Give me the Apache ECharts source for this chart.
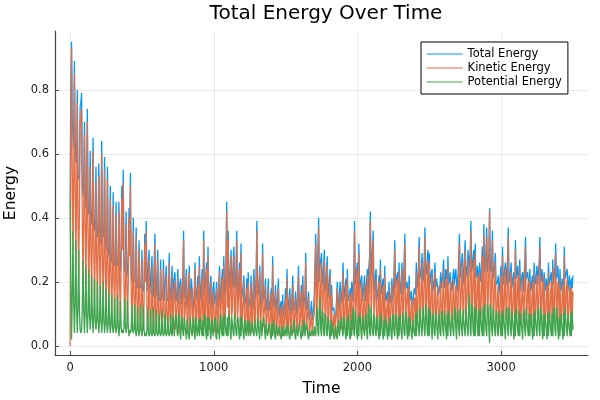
<!DOCTYPE html>
<html>
<head>
<meta charset="utf-8">
<script src="https://cdn.jsdelivr.net/npm/echarts@6/dist/echarts.min.js"></script>
<style>html,body{margin:0;padding:0;background:#fff}#c{width:600px;height:400px}</style>
</head>
<body>
<div id="c"></div>
<script>
const TIME_START = 0;
const TIME_STEP = 5;
const xTickValues = [0, 1000, 2000, 3000];
const yTickValues = [0, 0.2, 0.4, 0.6, 0.8];
const seriesNames = ['Total Energy', 'Kinetic Energy', 'Potential Energy'];

const kineticEnergy = [
0.00,0.62,0.93,0.55,0.30,0.48,0.85,0.52,0.25,0.45,0.76,0.40,0.22,0.42,0.70,0.72,0.74,0.38,0.20,0.40,
0.66,0.38,0.18,0.40,0.70,0.35,0.17,0.33,0.56,0.30,0.16,0.34,0.61,0.31,0.15,0.29,0.51,0.27,0.14,0.30,
0.53,0.28,0.13,0.30,0.60,0.29,0.14,0.27,0.55,0.26,0.12,0.25,0.52,0.24,0.11,0.23,0.46,0.22,0.10,0.22,
0.44,0.21,0.10,0.22,0.41,0.20,0.09,0.21,0.42,0.19,0.09,0.24,0.46,0.30,0.51,0.20,0.08,0.19,0.38,0.18,
0.08,0.20,0.40,0.28,0.50,0.18,0.07,0.17,0.36,0.16,0.07,0.16,0.34,0.15,0.06,0.14,0.30,0.14,0.06,0.13,
0.27,0.13,0.05,0.14,0.32,0.20,0.36,0.12,0.05,0.13,0.27,0.12,0.05,0.12,0.25,0.11,0.04,0.12,0.32,0.11,
0.05,0.12,0.27,0.11,0.04,0.11,0.24,0.10,0.05,0.11,0.24,0.10,0.04,0.10,0.22,0.10,0.05,0.11,0.26,0.10,
0.06,0.15,0.22,0.04,0.12,0.17,0.20,0.05,0.05,0.14,0.21,0.04,0.08,0.16,0.19,0.05,0.06,0.18,0.33,0.06,
0.10,0.16,0.22,0.04,0.05,0.15,0.23,0.05,0.09,0.17,0.18,0.04,0.04,0.14,0.24,0.05,0.08,0.15,0.19,0.04,
0.25,0.05,0.06,0.16,0.21,0.06,0.33,0.06,0.07,0.18,0.24,0.05,0.28,0.06,0.05,0.15,0.20,0.04,0.06,0.15,
0.17,0.05,0.04,0.13,0.18,0.04,0.07,0.15,0.23,0.05,0.05,0.16,0.21,0.06,0.25,0.07,0.08,0.20,0.42,0.12,
0.33,0.08,0.10,0.21,0.28,0.09,0.12,0.22,0.28,0.08,0.09,0.20,0.33,0.07,0.07,0.18,0.24,0.07,0.29,0.06,
0.06,0.14,0.20,0.04,0.05,0.13,0.18,0.05,0.20,0.05,0.04,0.12,0.19,0.04,0.06,0.15,0.21,0.05,0.08,0.18,
0.36,0.08,0.07,0.16,0.23,0.05,0.05,0.14,0.29,0.06,0.06,0.13,0.19,0.04,0.04,0.12,0.18,0.04,0.05,0.11,
0.16,0.04,0.25,0.05,0.04,0.12,0.17,0.04,0.05,0.13,0.18,0.04,0.03,0.10,0.12,0.03,0.13,0.03,0.03,0.10,
0.15,0.04,0.21,0.05,0.04,0.12,0.16,0.04,0.05,0.13,0.19,0.04,0.04,0.11,0.15,0.04,0.05,0.14,0.22,0.05,
0.06,0.12,0.17,0.04,0.19,0.05,0.04,0.13,0.26,0.05,0.05,0.11,0.15,0.03,0.03,0.08,0.11,0.03,0.03,0.09,
0.10,0.22,0.32,0.08,0.12,0.25,0.37,0.09,0.10,0.20,0.26,0.08,0.12,0.21,0.27,0.07,0.09,0.19,0.25,0.06,
0.08,0.17,0.22,0.06,0.16,0.05,0.04,0.09,0.10,0.03,0.03,0.12,0.18,0.04,0.05,0.14,0.17,0.05,0.06,0.15,
0.23,0.05,0.06,0.15,0.19,0.05,0.21,0.05,0.05,0.13,0.16,0.04,0.17,0.05,0.07,0.18,0.36,0.08,0.10,0.20,
0.24,0.07,0.29,0.07,0.08,0.17,0.20,0.05,0.06,0.15,0.19,0.05,0.07,0.17,0.22,0.06,0.12,0.24,0.39,0.10,
0.15,0.26,0.33,0.08,0.08,0.18,0.21,0.05,0.06,0.14,0.20,0.06,0.24,0.06,0.07,0.16,0.19,0.05,0.22,0.06,
0.06,0.12,0.15,0.04,0.17,0.05,0.05,0.14,0.19,0.05,0.07,0.19,0.30,0.08,0.09,0.18,0.21,0.06,0.23,0.06,
0.07,0.17,0.24,0.06,0.10,0.22,0.32,0.08,0.08,0.16,0.18,0.05,0.19,0.05,0.06,0.13,0.15,0.04,0.07,0.14,
0.15,0.06,0.23,0.07,0.09,0.20,0.31,0.09,0.10,0.19,0.26,0.08,0.11,0.22,0.34,0.09,0.12,0.21,0.27,0.08,
0.26,0.08,0.09,0.18,0.22,0.07,0.08,0.17,0.23,0.07,0.10,0.16,0.19,0.06,0.07,0.15,0.20,0.07,0.08,0.18,
0.24,0.07,0.10,0.19,0.21,0.08,0.25,0.08,0.09,0.18,0.20,0.07,0.08,0.17,0.21,0.08,0.10,0.19,0.18,0.07,
0.11,0.22,0.32,0.09,0.12,0.21,0.26,0.08,0.10,0.23,0.30,0.09,0.12,0.20,0.27,0.09,0.11,0.24,0.36,0.10,
0.13,0.23,0.27,0.09,0.29,0.09,0.11,0.20,0.22,0.08,0.23,0.08,0.10,0.21,0.28,0.09,0.35,0.10,0.12,0.25,
0.34,0.10,0.14,0.24,0.42,0.11,0.12,0.22,0.33,0.09,0.11,0.20,0.26,0.08,0.09,0.16,0.19,0.06,0.08,0.17,
0.22,0.07,0.28,0.08,0.10,0.19,0.24,0.08,0.11,0.22,0.34,0.09,0.10,0.18,0.23,0.07,0.09,0.17,0.21,0.07,
0.30,0.09,0.10,0.20,0.22,0.08,0.24,0.07,0.09,0.17,0.21,0.07,0.11,0.21,0.31,0.09,0.10,0.18,0.20,0.07,
0.21,0.07,0.08,0.16,0.20,0.07,0.23,0.08,0.09,0.18,0.22,0.08,0.11,0.21,0.31,0.09,0.10,0.19,0.22,0.07,
0.20,0.07,0.08,0.16,0.19,0.07,0.23,0.08,0.09,0.17,0.20,0.07,0.24,0.08,0.10,0.20,0.29,0.09,0.11,0.20,
0.18,0.06,0.21,0.07,0.08,0.16,0.19,0.07,0.28,0.09,0.10,0.18,0.21,0.07,0.09,0.17,0.19,0.07,0.18,0.07,
0.17
];

const potentialEnergy = [
0.45,0.20,0.02,0.15,0.36,0.14,0.04,0.13,0.33,0.12,0.04,0.12,0.30,0.11,0.05,0.04,0.05,0.12,0.27,0.11,
0.04,0.11,0.25,0.10,0.04,0.10,0.24,0.10,0.05,0.09,0.22,0.09,0.04,0.09,0.21,0.08,0.05,0.08,0.20,0.08,
0.04,0.08,0.19,0.08,0.04,0.08,0.20,0.08,0.04,0.07,0.18,0.07,0.04,0.07,0.17,0.07,0.04,0.07,0.16,0.06,
0.04,0.06,0.15,0.06,0.04,0.06,0.16,0.06,0.03,0.06,0.14,0.06,0.04,0.05,0.04,0.06,0.15,0.06,0.04,0.06,
0.14,0.06,0.03,0.05,0.04,0.05,0.13,0.05,0.04,0.05,0.13,0.05,0.03,0.05,0.12,0.05,0.03,0.05,0.13,0.05,
0.03,0.05,0.12,0.05,0.03,0.04,0.03,0.05,0.12,0.04,0.03,0.04,0.11,0.04,0.03,0.04,0.12,0.04,0.03,0.04,
0.11,0.04,0.03,0.04,0.10,0.04,0.03,0.04,0.11,0.04,0.03,0.04,0.10,0.04,0.03,0.04,0.09,0.04,0.03,0.04,
0.10,0.04,0.03,0.09,0.08,0.03,0.03,0.10,0.09,0.04,0.03,0.09,0.10,0.04,0.02,0.08,0.09,0.04,0.03,0.09,
0.06,0.04,0.02,0.08,0.08,0.03,0.02,0.09,0.07,0.04,0.03,0.07,0.09,0.04,0.02,0.09,0.06,0.03,0.03,0.08,
0.03,0.09,0.08,0.04,0.03,0.08,0.03,0.10,0.09,0.04,0.02,0.09,0.03,0.09,0.08,0.04,0.02,0.08,0.07,0.03,
0.03,0.08,0.09,0.03,0.02,0.08,0.06,0.04,0.02,0.09,0.10,0.04,0.03,0.09,0.03,0.10,0.07,0.04,0.03,0.09,
0.03,0.10,0.09,0.04,0.02,0.09,0.07,0.04,0.03,0.10,0.10,0.04,0.03,0.09,0.08,0.04,0.02,0.09,0.03,0.09,
0.09,0.04,0.02,0.08,0.07,0.03,0.03,0.08,0.03,0.07,0.08,0.03,0.03,0.07,0.06,0.04,0.03,0.08,0.08,0.04,
0.03,0.09,0.09,0.04,0.02,0.08,0.07,0.03,0.03,0.09,0.08,0.04,0.02,0.07,0.07,0.03,0.03,0.07,0.06,0.03,
0.02,0.07,0.03,0.08,0.08,0.03,0.02,0.07,0.07,0.03,0.03,0.06,0.06,0.03,0.02,0.06,0.03,0.06,0.06,0.03,
0.03,0.06,0.03,0.07,0.07,0.03,0.02,0.06,0.06,0.03,0.03,0.07,0.08,0.03,0.02,0.06,0.06,0.03,0.03,0.07,
0.07,0.03,0.02,0.06,0.03,0.07,0.08,0.03,0.03,0.07,0.06,0.03,0.02,0.05,0.05,0.03,0.03,0.05,0.05,0.03,
0.06,0.04,0.03,0.10,0.12,0.04,0.03,0.11,0.15,0.05,0.03,0.11,0.10,0.04,0.03,0.10,0.09,0.04,0.03,0.09,
0.08,0.04,0.02,0.08,0.03,0.07,0.07,0.03,0.02,0.05,0.06,0.03,0.02,0.07,0.08,0.03,0.03,0.08,0.09,0.04,
0.03,0.09,0.08,0.04,0.02,0.08,0.03,0.09,0.10,0.03,0.02,0.08,0.03,0.09,0.12,0.04,0.03,0.11,0.09,0.04,
0.02,0.09,0.03,0.10,0.09,0.04,0.02,0.09,0.08,0.04,0.03,0.09,0.10,0.04,0.02,0.10,0.13,0.04,0.03,0.12,
0.12,0.04,0.03,0.10,0.09,0.04,0.03,0.09,0.08,0.04,0.02,0.09,0.03,0.10,0.10,0.04,0.02,0.08,0.03,0.09,
0.08,0.04,0.02,0.07,0.03,0.08,0.09,0.03,0.02,0.09,0.10,0.04,0.03,0.10,0.09,0.04,0.02,0.09,0.03,0.10,
0.10,0.04,0.02,0.10,0.09,0.04,0.03,0.11,0.10,0.04,0.02,0.09,0.03,0.09,0.09,0.04,0.02,0.08,0.08,0.04,
0.03,0.10,0.03,0.11,0.11,0.05,0.03,0.12,0.12,0.05,0.03,0.12,0.10,0.05,0.03,0.13,0.11,0.05,0.03,0.12,
0.03,0.11,0.10,0.05,0.02,0.10,0.09,0.04,0.03,0.11,0.11,0.05,0.02,0.10,0.09,0.04,0.03,0.11,0.10,0.05,
0.03,0.11,0.09,0.05,0.02,0.10,0.03,0.11,0.11,0.05,0.03,0.10,0.10,0.05,0.03,0.11,0.12,0.05,0.02,0.10,
0.11,0.05,0.03,0.12,0.12,0.05,0.03,0.11,0.11,0.05,0.03,0.12,0.12,0.05,0.03,0.13,0.16,0.05,0.03,0.13,
0.12,0.05,0.03,0.12,0.03,0.12,0.11,0.05,0.03,0.11,0.03,0.12,0.12,0.05,0.03,0.12,0.03,0.13,0.13,0.05,
0.03,0.13,0.12,0.05,0.01,0.13,0.11,0.05,0.03,0.12,0.12,0.05,0.03,0.11,0.10,0.04,0.03,0.10,0.11,0.05,
0.03,0.10,0.03,0.11,0.11,0.05,0.02,0.11,0.12,0.05,0.03,0.12,0.10,0.05,0.03,0.11,0.11,0.05,0.02,0.10,
0.03,0.12,0.12,0.05,0.03,0.11,0.03,0.10,0.10,0.05,0.02,0.10,0.11,0.05,0.03,0.12,0.12,0.05,0.03,0.10,
0.03,0.10,0.10,0.05,0.02,0.10,0.03,0.11,0.11,0.05,0.03,0.11,0.12,0.05,0.03,0.12,0.10,0.05,0.02,0.10,
0.03,0.10,0.10,0.05,0.02,0.10,0.03,0.11,0.11,0.05,0.03,0.10,0.03,0.11,0.12,0.05,0.03,0.12,0.11,0.05,
0.02,0.09,0.03,0.10,0.10,0.05,0.02,0.10,0.03,0.12,0.12,0.05,0.03,0.10,0.10,0.05,0.03,0.10,0.03,0.11,
0.05
];

const totalEnergy = [
0.45,0.82,0.95,0.70,0.66,0.62,0.89,0.65,0.58,0.57,0.80,0.52,0.52,0.53,0.75,0.76,0.79,0.50,0.47,0.51,
0.70,0.49,0.43,0.50,0.74,0.45,0.41,0.43,0.61,0.39,0.38,0.43,0.65,0.40,0.36,0.37,0.56,0.35,0.34,0.38,
0.57,0.36,0.32,0.38,0.64,0.37,0.34,0.35,0.59,0.33,0.30,0.32,0.56,0.31,0.28,0.30,0.50,0.29,0.26,0.28,
0.48,0.27,0.25,0.28,0.45,0.26,0.25,0.27,0.45,0.25,0.23,0.30,0.50,0.35,0.55,0.26,0.23,0.25,0.42,0.24,
0.22,0.26,0.43,0.33,0.54,0.23,0.20,0.22,0.40,0.21,0.20,0.21,0.37,0.20,0.18,0.19,0.33,0.19,0.19,0.18,
0.30,0.18,0.17,0.19,0.35,0.24,0.39,0.17,0.17,0.17,0.30,0.16,0.16,0.16,0.28,0.15,0.16,0.16,0.35,0.15,
0.16,0.16,0.30,0.15,0.14,0.15,0.27,0.14,0.16,0.15,0.27,0.14,0.14,0.14,0.25,0.14,0.14,0.15,0.29,0.14,
0.16,0.19,0.25,0.13,0.20,0.20,0.23,0.15,0.14,0.18,0.24,0.13,0.18,0.20,0.21,0.13,0.15,0.22,0.36,0.15,
0.16,0.20,0.24,0.12,0.13,0.18,0.25,0.14,0.16,0.21,0.21,0.11,0.13,0.18,0.26,0.14,0.14,0.18,0.22,0.12,
0.28,0.14,0.14,0.20,0.24,0.14,0.36,0.16,0.16,0.22,0.26,0.14,0.31,0.15,0.13,0.19,0.22,0.12,0.13,0.18,
0.20,0.13,0.13,0.16,0.20,0.12,0.13,0.19,0.25,0.14,0.15,0.20,0.24,0.15,0.28,0.17,0.15,0.24,0.45,0.21,
0.36,0.18,0.19,0.25,0.30,0.18,0.19,0.26,0.31,0.18,0.19,0.24,0.36,0.16,0.15,0.22,0.26,0.16,0.32,0.15,
0.15,0.18,0.22,0.12,0.12,0.16,0.21,0.13,0.23,0.12,0.12,0.15,0.22,0.11,0.12,0.19,0.24,0.13,0.16,0.22,
0.39,0.17,0.16,0.20,0.25,0.13,0.12,0.17,0.32,0.15,0.14,0.17,0.21,0.11,0.11,0.15,0.21,0.11,0.11,0.14,
0.18,0.11,0.28,0.13,0.12,0.15,0.19,0.11,0.12,0.16,0.21,0.10,0.09,0.13,0.14,0.09,0.16,0.09,0.09,0.13,
0.18,0.10,0.24,0.12,0.11,0.15,0.18,0.10,0.11,0.16,0.22,0.11,0.12,0.14,0.17,0.10,0.11,0.17,0.25,0.12,
0.13,0.15,0.19,0.10,0.22,0.12,0.12,0.16,0.29,0.12,0.11,0.14,0.17,0.08,0.08,0.11,0.14,0.08,0.08,0.12,
0.16,0.26,0.35,0.18,0.24,0.29,0.40,0.20,0.25,0.25,0.29,0.19,0.22,0.25,0.30,0.17,0.18,0.23,0.28,0.15,
0.16,0.21,0.24,0.14,0.19,0.12,0.11,0.12,0.12,0.08,0.09,0.15,0.20,0.11,0.13,0.17,0.20,0.13,0.15,0.19,
0.26,0.14,0.14,0.19,0.21,0.13,0.24,0.14,0.15,0.16,0.18,0.12,0.20,0.14,0.19,0.22,0.39,0.19,0.19,0.24,
0.26,0.16,0.32,0.17,0.17,0.21,0.22,0.14,0.14,0.19,0.22,0.14,0.17,0.21,0.24,0.16,0.25,0.28,0.42,0.22,
0.27,0.30,0.36,0.18,0.17,0.22,0.24,0.14,0.14,0.18,0.22,0.15,0.27,0.16,0.17,0.20,0.21,0.13,0.25,0.15,
0.14,0.16,0.17,0.11,0.20,0.13,0.14,0.17,0.21,0.14,0.17,0.23,0.33,0.18,0.18,0.22,0.23,0.15,0.26,0.16,
0.17,0.21,0.26,0.16,0.19,0.26,0.35,0.19,0.18,0.20,0.20,0.14,0.22,0.14,0.15,0.17,0.17,0.12,0.15,0.18,
0.18,0.16,0.26,0.18,0.20,0.25,0.34,0.21,0.22,0.24,0.29,0.20,0.21,0.27,0.37,0.22,0.23,0.26,0.30,0.20,
0.29,0.19,0.19,0.23,0.24,0.17,0.17,0.21,0.26,0.18,0.21,0.21,0.21,0.16,0.16,0.19,0.23,0.18,0.18,0.23,
0.27,0.18,0.19,0.24,0.23,0.18,0.28,0.19,0.20,0.23,0.23,0.17,0.18,0.22,0.24,0.19,0.22,0.24,0.20,0.17,
0.22,0.27,0.35,0.21,0.24,0.26,0.29,0.19,0.21,0.28,0.33,0.21,0.24,0.25,0.30,0.22,0.27,0.29,0.39,0.23,
0.25,0.28,0.30,0.21,0.32,0.21,0.22,0.25,0.25,0.19,0.26,0.20,0.22,0.26,0.31,0.21,0.38,0.23,0.25,0.30,
0.37,0.23,0.26,0.29,0.43,0.24,0.23,0.27,0.36,0.21,0.23,0.25,0.29,0.19,0.19,0.20,0.22,0.16,0.19,0.22,
0.25,0.17,0.31,0.19,0.21,0.24,0.26,0.19,0.23,0.27,0.37,0.21,0.20,0.23,0.26,0.18,0.20,0.22,0.23,0.17,
0.33,0.21,0.22,0.25,0.25,0.19,0.27,0.17,0.19,0.22,0.23,0.17,0.22,0.26,0.34,0.21,0.22,0.23,0.23,0.17,
0.24,0.17,0.18,0.21,0.22,0.17,0.26,0.19,0.20,0.23,0.25,0.19,0.23,0.26,0.34,0.21,0.20,0.24,0.24,0.17,
0.23,0.17,0.18,0.21,0.21,0.17,0.26,0.19,0.20,0.22,0.23,0.17,0.27,0.19,0.22,0.25,0.32,0.21,0.22,0.25,
0.20,0.15,0.24,0.17,0.18,0.21,0.21,0.17,0.31,0.21,0.22,0.23,0.24,0.17,0.19,0.22,0.22,0.17,0.21,0.18,
0.22
];

const times = totalEnergy.map((_, i) => TIME_START + i * TIME_STEP);
const pair = arr => arr.map((v, i) => [times[i], v]);

const colors = ['#009AFA', '#E36F47', '#3EA44E'];
const FONT = 'DejaVu Sans';

const chart = echarts.init(document.getElementById('c'), null, {renderer: 'canvas'});
chart.setOption({
  animation: false,
  backgroundColor: '#ffffff',
  color: colors,
  title: {
    text: 'Total Energy Over Time',
    left: 321, top: -1, textAlign: 'center',
    textStyle: {fontFamily: FONT, fontSize: 20, fontWeight: 'normal', color: '#000'}
  },
  legend: {
    orient: 'vertical',
    left: 421, top: 42,
    data: seriesNames,
    itemWidth: 36, itemHeight: 11, itemGap: 2,
    padding: [6, 6, 6, 5],
    borderColor: '#000', borderWidth: 1, borderRadius: 0,
    backgroundColor: '#fff',
    itemStyle: {opacity: 0},
    lineStyle: {width: 1.2},
    textStyle: {fontFamily: FONT, fontSize: 11.5, color: '#000', lineHeight: 11}
  },
  grid: {left: 55, right: 12, top: 31, bottom: 45, containLabel: false, outerBoundsMode: 'none'},
  xAxis: {
    type: 'value', min: -105, max: 3605,
    name: 'Time', nameLocation: 'middle', nameGap: 26,
    nameTextStyle: {fontFamily: FONT, fontSize: 15.5, color: '#000'},
    axisLine: {show: true, onZero: false, lineStyle: {color: '#444', width: 1.2}},
    axisTick: {show: true, inside: true, length: 4, customValues: xTickValues, lineStyle: {color: '#444'}},
    axisLabel: {customValues: xTickValues, fontFamily: FONT, fontSize: 11.5, color: '#222', margin: 7,
      formatter: v => String(v)},
    splitLine: {show: true, lineStyle: {color: 'rgba(0,0,0,0.08)', width: 1}}
  },
  yAxis: {
    type: 'value', min: -0.0287, max: 0.984,
    name: 'Energy', nameLocation: 'middle', nameGap: 36, nameRotate: 90,
    nameTextStyle: {fontFamily: FONT, fontSize: 15.5, color: '#000'},
    axisLine: {show: true, onZero: false, lineStyle: {color: '#444', width: 1.2}},
    axisTick: {show: true, inside: true, length: 4, customValues: yTickValues, lineStyle: {color: '#444'}},
    axisLabel: {customValues: yTickValues, fontFamily: FONT, fontSize: 11.5, color: '#222', margin: 6,
      formatter: v => v.toFixed(1)},
    splitLine: {show: true, lineStyle: {color: 'rgba(0,0,0,0.08)', width: 1}}
  },
  series: [
    {name: seriesNames[0], type: 'line', data: pair(totalEnergy), symbol: 'none', lineStyle: {width: 1.3, color: colors[0]}, itemStyle: {color: colors[0]}},
    {name: seriesNames[1], type: 'line', data: pair(kineticEnergy), symbol: 'none', lineStyle: {width: 1.3, color: colors[1]}, itemStyle: {color: colors[1]}},
    {name: seriesNames[2], type: 'line', data: pair(potentialEnergy), symbol: 'none', lineStyle: {width: 1.3, color: colors[2]}, itemStyle: {color: colors[2]}}
  ]
});
</script>
</body>
</html>
